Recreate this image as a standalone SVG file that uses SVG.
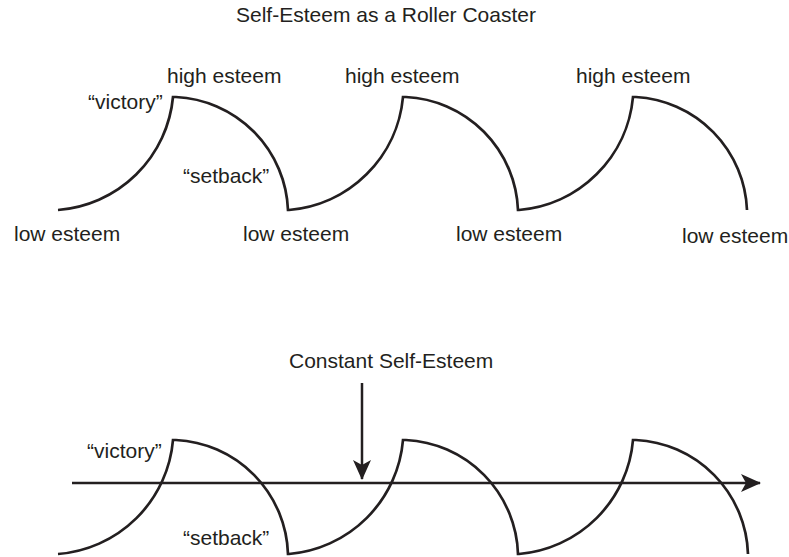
<svg xmlns="http://www.w3.org/2000/svg" width="789" height="557" viewBox="0 0 789 557">
  <style>
    text { font-family: "Liberation Sans", Arial, Helvetica, sans-serif; fill: #231f20; font-size: 21px; }
    .title { text-anchor: middle; }
    .curve { fill: none; stroke: #231f20; stroke-width: 2.7; stroke-linejoin: miter; }
    .axis { fill: none; stroke: #231f20; stroke-width: 2.5; }
  </style>
  <defs>
    <marker id="head" viewBox="0 0 20 18" refX="19" refY="9" markerWidth="20" markerHeight="18" markerUnits="userSpaceOnUse" orient="auto">
      <path d="M0,0 L20,9 L0,18 L5,9 Z" fill="#231f20"/>
    </marker>
  </defs>

  <rect width="789" height="557" fill="#ffffff"/>

  <!-- Upper panel: self-esteem as a roller coaster -->
  <g id="roller-coaster">
    <text class="title" x="386" y="22">Self-Esteem as a Roller Coaster</text>
    <path class="curve" d="M58,210 A125,125 0 0 0 173,97 L176,97 A118,118 0 0 1 288,210 L289,210 A125,125 0 0 0 403,97 L406,97 A118,118 0 0 1 518,210 L519,210 A125,125 0 0 0 633,97 L636,97 A118,118 0 0 1 747,210"/>
    <text x="167" y="83">high esteem</text>
    <text x="345" y="83">high esteem</text>
    <text x="576" y="83">high esteem</text>
    <text x="88" y="109">“victory”</text>
    <text x="183" y="183">“setback”</text>
    <text x="14" y="241">low esteem</text>
    <text x="243" y="241">low esteem</text>
    <text x="456" y="241">low esteem</text>
    <text x="682" y="243">low esteem</text>
  </g>

  <!-- Lower panel: constant self-esteem line through the swings -->
  <g id="constant">
    <path class="curve" d="M58,554 A125,125 0 0 0 173,440 L176,440 A118,118 0 0 1 288,554 L289,554 A125,125 0 0 0 403,440 L406,440 A118,118 0 0 1 518,554 L519,554 A125,125 0 0 0 633,440 L636,440 A118,118 0 0 1 748,554"/>
    <text x="87" y="458">“victory”</text>
    <text x="183" y="545">“setback”</text>
    <text x="289" y="368">Constant Self-Esteem</text>
  </g>

  <g id="connectors">
    <line class="axis" x1="72" y1="483" x2="760" y2="483" marker-end="url(#head)"/>
    <line class="axis" x1="362" y1="383" x2="362" y2="479" marker-end="url(#head)"/>
  </g>
</svg>
